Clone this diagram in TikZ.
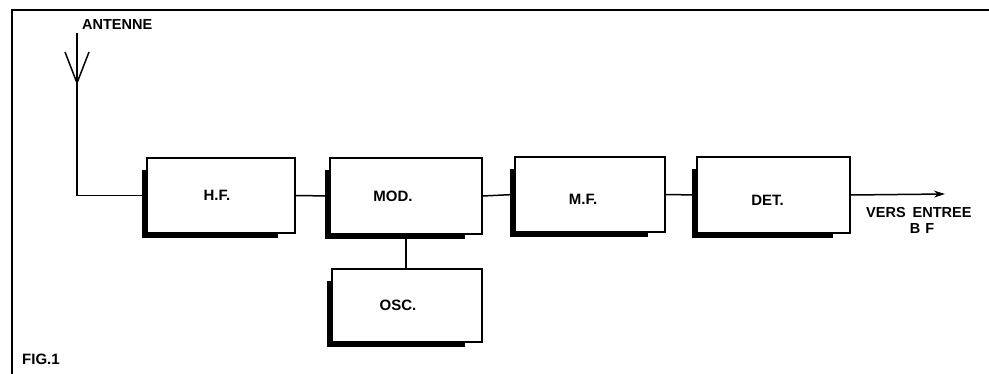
\documentclass[tikz,border=0pt]{standalone}
\usepackage{fontspec}
\setmainfont{Liberation Sans}
\usetikzlibrary{calc,arrows.meta}
\begin{document}
\begin{tikzpicture}[x=1pt,y=-1pt,
  blk/.style={draw,line width=1.5pt,fill=white,inner sep=0pt,font=\bfseries\fontsize{15}{17}\selectfont},
  wire/.style={line width=1.5pt},
  lbl/.style={inner sep=0pt,font=\bfseries\fontsize{14.5}{17}\selectfont}]
\useasboundingbox (0,0) rectangle (989,374);
\fill[white] (0,0) rectangle (989,374);
% frame
\draw[line width=2.2pt] (12,374) -- (12,10) -- (989,10);
% blocks
\node[blk,minimum width=148pt,minimum height=75pt] (hf) at (221,195.5) {\kern-8pt H.F.};
\node[blk,minimum width=152pt,minimum height=76pt] (mod) at (406,196) {\kern-26pt MOD.};
\node[blk,minimum width=150pt,minimum height=75pt] (mf) at (590,194.5) {\kern-14pt\raisebox{-5pt}[\height][\depth]{M.F.}};
\node[blk,minimum width=153pt,minimum height=76pt] (det) at (773.5,195) {\kern-12pt\raisebox{-5pt}[\height][\depth]{DET.}};
\node[blk,minimum width=150pt,minimum height=73pt] (osc) at (407,305.5) {\kern-18pt OSC.};
% shadows
\foreach \n in {hf,mod,mf,det,osc}{
  \fill ($(\n.north west)+(-4,13)$) rectangle ($(\n.south west)+(0,4)$);
  \fill ($(\n.south west)+(-4,0)$) rectangle ($(\n.south east)+(-18,4)$);
}
% antenna
\coordinate (ant) at (77,33);
\coordinate (antv) at (77,83);
\draw[wire] (ant) |- (hf.west);
\draw[wire] (65,52) -- (antv) -- (89,52);
\node[lbl,anchor=west] (antl) at (82,25) {ANTENNE};
% connections
\draw[wire] (hf.east) -- (mod.west);
\draw[wire] (mod.east) -- (mf.west);
\draw[wire] (mf.east) -- (det.west);
\draw[wire] (mod.south) -- (mod.south |- osc.north);
\coordinate (out) at (945,194);
\draw[wire,-{Stealth[length=11pt,width=7pt]}] (det.east) -- (out);
\node[lbl,anchor=west] (vers) at (866,213) {VERS\hspace{7pt}ENTREE};
\node[lbl] (bf) at (922,229) {B\hspace{5pt}F};
\node[lbl,anchor=west,font=\bfseries\fontsize{15}{17}\selectfont] (fig) at (22,359) {FIG.1};
\end{tikzpicture}
\end{document}
